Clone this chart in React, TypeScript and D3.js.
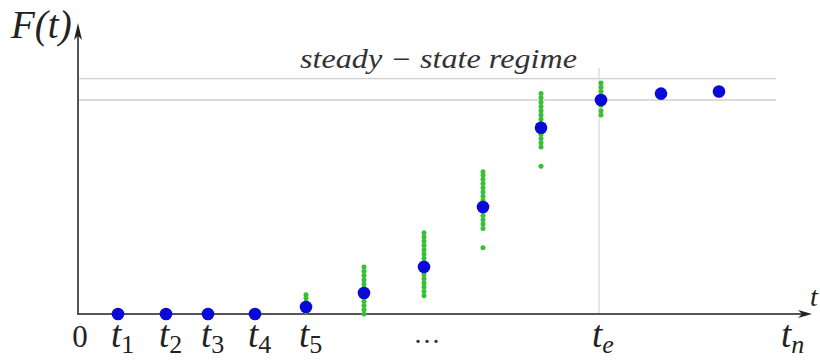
import React from "react";
import * as d3 from "d3";

// Time positions of the sample instants (arbitrary time units)
const times = [40, 88, 130, 177, 228, 286, 346, 405, 463, 523, 583, 641];
// Mean value F(t) at each instant
const means = [0, 0, 0, 0, 3.3, 9.8, 22, 50, 87, 100, 103, 104];
// Individual realisations (green) per instant
const samples: number[][] = [
  [],
  [],
  [],
  [],
  [1, 3, 5.5, 7.5, 9],
  [0, 2, 4, 6, 12, 14, 16, 18, 20, 22],
  [8.5, 10.5, 12.6, 14.5, 16.5, 18.5, 24, 26, 28, 30, 32, 34, 36, 38],
  [31, 40, 42, 44, 46, 48, 53, 55, 57, 59, 61, 63, 65, 66.5],
  [69, 78, 80, 82, 84, 89, 91, 93, 95, 97, 99, 101, 103],
  [93, 95, 97.5, 102, 104, 106, 108],
  [],
  [],
];
// Axis labels
const tickLabels = [
  { main: "t", sub: "1", at: 40 },
  { main: "t", sub: "2", at: 88 },
  { main: "t", sub: "3", at: 130 },
  { main: "t", sub: "4", at: 177 },
  { main: "t", sub: "5", at: 228 },
  { main: "t", sub: "e", at: 521 },
  { main: "t", sub: "n", at: 710 },
];
const steadyLevels = [100, 110];
const steadyLabel = "steady \u2212 state  regime";

export default function App() {
  const W = 820;
  const H = 361;
  const x = d3.scaleLinear().domain([0, 730]).range([78, 808]);
  const y = d3.scaleLinear().domain([0, 100]).range([314, 100]);
  const serif = '"Liberation Serif", "Times New Roman", Times, serif';
  const axisColor = "#555";
  const teIndex = 9;
  const tf = { fontFamily: serif };

  return (
    <svg
      width={W}
      height={H}
      style={{ position: "absolute", left: 0, top: 0, background: "#fff" }}
    >
      {/* steady-state reference lines */}
      {steadyLevels.map((v, i) => (
        <line
          key={"s" + i}
          x1={x(1)}
          x2={x(698)}
          y1={y(v)}
          y2={y(v)}
          stroke="#cfcfcf"
          strokeWidth={1.3}
        />
      ))}
      {/* t_e vertical line */}
      <line
        x1={x(times[teIndex]) - 2}
        x2={x(times[teIndex]) - 2}
        y1={y(0)}
        y2={y(115)}
        stroke="#d6d6d6"
        strokeWidth={1.2}
      />
      <text
        x={x(222)}
        y={68}
        style={tf}
        fontStyle="italic"
        fontSize={27}
        fill="#333"
        textLength={277}
        lengthAdjust="spacingAndGlyphs"
      >
        {steadyLabel}
      </text>

      {/* axes */}
      <line x1={x(0)} x2={x(0)} y1={y(0) + 1} y2={y(132)} stroke={axisColor} strokeWidth={2} />
      <path
        d={`M${x(0)},${y(136)} L${x(0) - 4},${y(128)} L${x(0)},${y(130)} L${x(0) + 4},${y(128)} Z`}
        fill="#222"
      />
      <line x1={x(0)} x2={x(727)} y1={y(0)} y2={y(0)} stroke={axisColor} strokeWidth={2.2} />
      <path
        d={`M${x(734)},${y(0)} L${x(720)},${y(0) - 4} L${x(724)},${y(0)} L${x(720)},${y(0) + 4} Z`}
        fill="#222"
      />

      {/* green samples */}
      {samples.map((col, i) =>
        col.map((v, j) => (
          <circle
            key={`g${i}-${j}`}
            cx={x(times[i])}
            cy={y(v)}
            r={2.5}
            fill="#36c036"
          />
        ))
      )}
      {/* blue means */}
      {means.map((v, i) => (
        <circle key={"b" + i} cx={x(times[i])} cy={y(v)} r={6.3} fill="#0a0ad8" />
      ))}

      {/* labels */}
      <text x={11} y={38} style={tf} fontStyle="italic" fontSize={39} fill="#222">
        F(t)
      </text>
      <text x={x(2)} y={347} textAnchor="middle" style={tf} fontSize={31} fill="#222">
        0
      </text>
      {tickLabels.map((l, i) => (
        <text
          key={"t" + i}
          x={x(l.at) - 7}
          y={347}
          style={tf}
          fontSize={37}
          fill="#222"
        >
          <tspan fontStyle="italic">{l.main}</tspan>
          <tspan fontSize={26} dy={6} fontStyle={l.sub === "e" || l.sub === "n" ? "italic" : "normal"}>
            {l.sub}
          </tspan>
        </text>
      ))}
      <text x={x(350)} y={343} textAnchor="middle" style={tf} fontSize={28} fill="#333" letterSpacing={2}>
        ...
      </text>
      <text x={810} y={306} style={tf} fontStyle="italic" fontSize={28} fill="#222">
        t
      </text>
    </svg>
  );
}
